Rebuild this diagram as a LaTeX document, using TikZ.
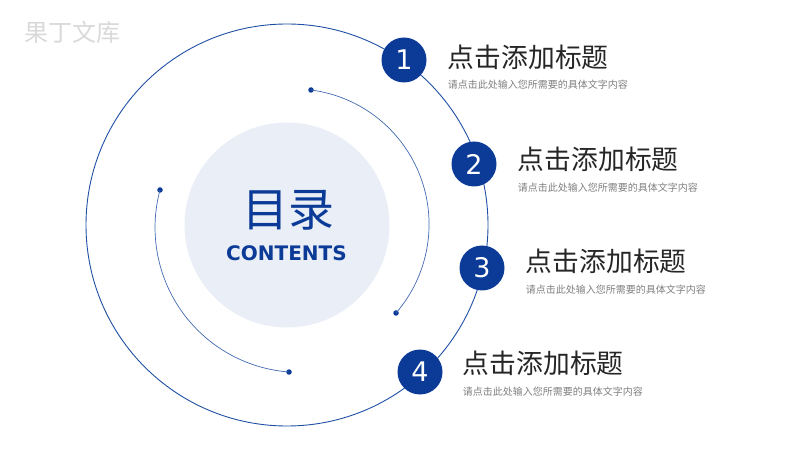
\documentclass[tikz,border=0pt]{standalone}
\usepackage{fontspec}
\setmainfont{DejaVu Sans}
\newfontfamily\cjk{Noto Sans CJK SC}
\definecolor{mainblue}{HTML}{0B3B97}
\definecolor{ringblue}{HTML}{1F4FA3}
\definecolor{lightblue}{HTML}{E9EEF7}
\definecolor{titlegray}{HTML}{262626}
\definecolor{subgray}{HTML}{7F7F7F}
\definecolor{markgray}{HTML}{D9D9D9}
\begin{document}
\begin{tikzpicture}[x=1pt,y=1pt]
            \tikzstyle{numdot}=[circle,fill=mainblue,text=white,minimum size=45pt,inner sep=0pt,font=\fontsize{27}{27}\selectfont]
            \tikzstyle{enddot}=[circle,fill=mainblue,minimum size=5.5pt,inner sep=0pt]
            \tikzstyle{title}=[anchor=west,inner sep=0pt,text=titlegray,font=\cjk\fontsize{26.8}{27}\selectfont]
            \tikzstyle{subtitle}=[anchor=west,inner sep=0pt,text=subgray,font=\cjk\fontsize{10}{10}\selectfont]
            \useasboundingbox (0,0) rectangle (800,450);

                \node[anchor=west,inner sep=0pt,text=markgray,font=\cjk\fontsize{24}{24}\selectfont] (mark) at (24,418){果丁文库};

                \draw[ringblue,line width=0.9pt] (287,225) circle (201);
                \node[circle,fill=lightblue,minimum size=205pt,inner sep=0pt] (core) at (287,225){};
                \node[inner sep=0pt,text=mainblue,font=\cjk\fontsize{46}{46}\selectfont] (cn) at (288,240){目录};
                \node[inner sep=0pt,text=mainblue,font=\bfseries\fontsize{20}{20}\selectfont] (en) at (286.5,197){CONTENTS};

                \node[enddot] (A-1) at (311,360){};
                \node[enddot] (A-2) at (396,137){};
                \node[enddot] (B-1) at (160,260){};
                \node[enddot] (B-2) at (289,78){};
                \draw[ringblue!85,line width=0.7pt] (A-1.center) arc[start angle=82.6,end angle=-40.8,radius=135.5];
                \draw[ringblue!85,line width=0.7pt] (B-1.center) arc[start angle=164.95,end angle=265.7,radius=144.8];

                \foreach \i/\x/\y in {1/404/390, 2/474/286, 3/482/182, 4/420/78}
                    \node[numdot] (N-\i) at (\x,\y){\i};

                \foreach \i/\x/\y in {1/447.7/393, 2/517.7/290.3, 3/525.7/188.3, 4/462.7/86.3}
                {
                    \node[title] (T-\i) at (\x,\y){点击添加标题};
                    \node[subtitle] (S-\i) at (\x,\y-28){请点击此处输入您所需要的具体文字内容};
                }
        \end{tikzpicture}
\end{document}
